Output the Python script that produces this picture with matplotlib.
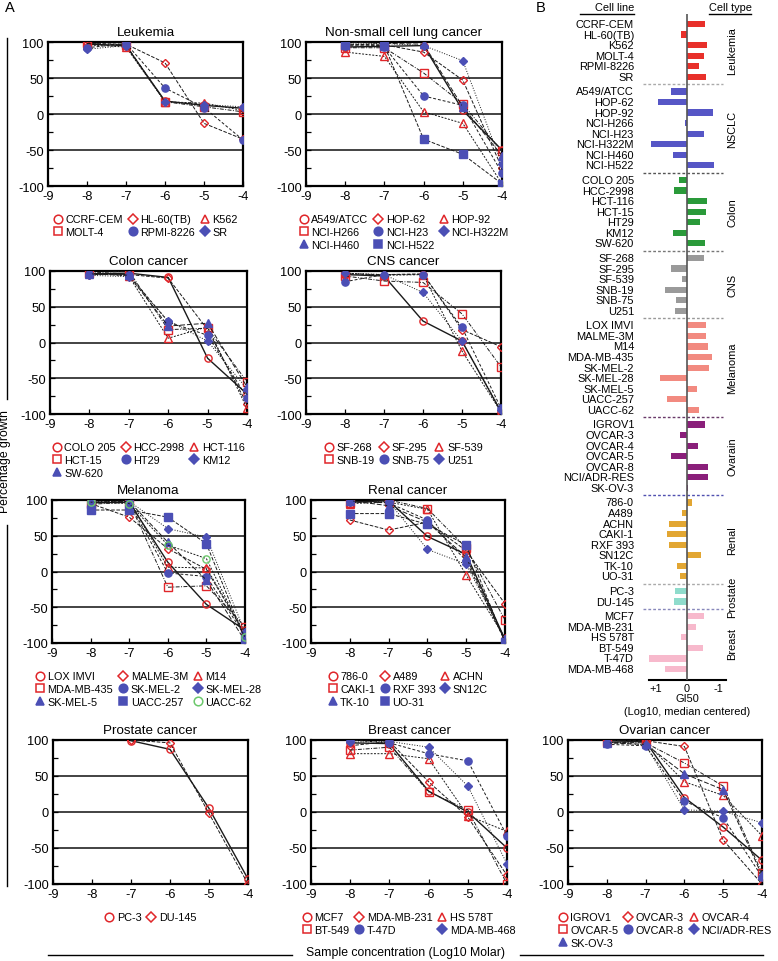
import numpy as np
import matplotlib
matplotlib.use("Agg")
import matplotlib.pyplot as plt
import matplotlib.transforms as mtransforms
from matplotlib.lines import Line2D

plt.rcParams['font.family'] = ['Liberation Sans', 'DejaVu Sans']
plt.rcParams['axes.unicode_minus'] = False

# concentrations (log10 M)
doses = [-8, -7, -6, -5, -4]

# percentage growth per cell line
leukemia_lines = ["CCRF-CEM", "HL-60(TB)", "K562", "MOLT-4", "RPMI-8226", "SR"]
leukemia_growth = [[97, 95, 18, 12, 8], [98, 97, 71, -13, -35], [96, 93, 17, 15, 5],
                   [98, 96, 17, 10, 3], [92, 98, 36, 9, -36], [90, 95, 17, 13, 10]]
leukemia_gi50 = [-0.58, 0.18, -0.63, -0.55, -0.39, -0.61]

nsclc_lines = ["A549/ATCC", "HOP-62", "HOP-92", "NCI-H266", "NCI-H23", "NCI-H322M",
               "NCI-H460", "NCI-H522"]
nsclc_growth = [[93, 94, 95, 5, -50], [97, 96, 86, 47, -75], [86, 80, 3, -13, -97],
                [92, 92, 57, 14, -52], [95, 93, 25, 12, -82], [97, 98, 95, 74, -70],
                [100, 98, 97, 10, -58], [96, 95, -35, -56, -97]]
nsclc_gi50 = [0.50, 0.92, -0.83, 0.06, -0.55, 1.16, 0.44, -0.85]

colon_lines = ["COLO 205", "HCC-2998", "HCT-116", "HCT-15", "HT29", "KM12", "SW-620"]
colon_growth = [[96, 97, 91, -22, -72], [95, 95, 90, 18, -86], [97, 93, 6, 22, -92],
                [97, 100, 18, 20, -55], [96, 95, 29, 10, -77], [94, 92, 30, 2, -65],
                [96, 94, 23, 27, -62]]
colon_gi50 = [0.25, 0.40, -0.63, -0.61, -0.40, 0.44, -0.56]

cns_lines = ["SF-268", "SF-295", "SF-539", "SNB-19", "SNB-75", "U251"]
cns_growth = [[95, 93, 30, 2, -97], [96, 95, 96, 18, -6], [97, 94, 95, -12, -97],
              [93, 86, 84, 40, -34], [85, 95, 95, 21, -92], [97, 95, 70, 2, -95]]
cns_gi50 = [-0.55, 0.51, 0.16, 0.69, 0.34, 0.39]

melanoma_lines = ["LOX IMVI", "MALME-3M", "M14", "MDA-MB-435", "SK-MEL-2", "SK-MEL-28",
                  "SK-MEL-5", "UACC-257", "UACC-62"]
melanoma_growth = [[96, 97, 13, -46, -82], [95, 76, 32, 3, -88], [97, 99, 6, 5, -86],
                   [94, 97, -22, -20, -77], [97, 96, -2, -7, -90], [98, 98, 60, 48, -85],
                   [97, 98, 41, -12, -97], [86, 86, 76, 39, -95], [97, 95, 37, 18, -92]]
melanoma_gi50 = [-0.61, -0.61, -0.67, -0.80, -0.70, 0.85, -0.33, 0.63, -0.37]

ovarian_lines = ["IGROV1", "OVCAR-3", "OVCAR-4", "OVCAR-5", "OVCAR-8", "NCI/ADR-RES", "SK-OV-3"]
ovarian_growth = [[97, 98, 20, -21, -67], [99, 99, 91, -39, -100], [100, 97, 42, 23, -33],
                  [97, 96, 68, 36, -85], [94, 92, 15, -8, -90], [97, 93, 3, 1, -15],
                  [96, 94, 53, 31, -88]]
ovarian_gi50 = [-0.58, 0.23, -0.35, 0.50, -0.68, -0.68, -0.02]

renal_lines = ["786-0", "A489", "ACHN", "CAKI-1", "RXF 393", "SN12C", "TK-10", "UO-31"]
renal_growth = [[97, 99, 49, 24, -95], [72, 58, 69, 29, -45], [95, 97, 87, -5, -93],
                [96, 100, 88, 33, -68], [98, 96, 72, 15, -97], [97, 98, 31, 10, -94],
                [99, 92, 69, 20, -98], [81, 81, 66, 37, -99]]
renal_gi50 = [-0.16, 0.16, 0.56, 0.63, 0.56, -0.46, 0.32, 0.23]

prostate_lines = ["PC-3", "DU-145"]
prostate_growth = [[np.nan, 99, 87, 5, -93], [np.nan, 100, 96, -2, -100]]
prostate_gi50 = [0.37, 0.40]

breast_lines = ["MCF7", "MDA-MB-231", "HS 578T", "BT-549", "T-47D", "MDA-MB-468"]
breast_growth = [[96, 95, 29, 0, -50], [92, 98, 42, -7, -88], [81, 81, 74, -5, -27],
                 [86, 90, 28, 3, -100], [100, 96, 81, 71, -33], [97, 98, 90, 36, -72]]
breast_gi50 = [-0.54, -0.30, 0.19, -0.51, 1.22, 0.69]

W, H = 778, 962
fig = plt.figure(figsize=(W / 100, H / 100), dpi=100, facecolor='w')


def px_axes(l, t, r, b):
    return fig.add_axes([l / W, 1 - b / H, (r - l) / W, (b - t) / H])


RED, BLUE, GREEN = '#e0262a', '#4b4fb5', '#6cc86c'
MARKERS = [('o', 'none', RED), ('D', 'none', RED), ('^', 'none', RED), ('s', 'none', RED),
           ('o', BLUE, BLUE), ('D', BLUE, BLUE), ('^', BLUE, BLUE), ('s', BLUE, BLUE),
           ('o', 'none', GREEN)]
LSTYLES = ['--', (0, (2, 1.5)), (0, (4, 1.5, 1, 1.5)), (0, (3, 2)), ':', (0, (5, 2))]


def growth_panel(ax, title, names, growth):
    handles = []
    for i, (name, vals) in enumerate(zip(names, growth)):
        mk, fc, ec = MARKERS[i]
        ms = 4.3 if mk == 'D' else 5.2
        ls = '-' if i == 0 else LSTYLES[(i - 1) % len(LSTYLES)]
        ax.plot(doses, vals, ls=ls, color='#1a1a1a', lw=1.0 if i == 0 else 0.7,
                marker=mk, ms=ms, mfc=fc, mec=ec, mew=1.0, zorder=3)
        handles.append(Line2D([], [], ls='none', marker=mk, ms=ms + 1, mfc=fc, mec=ec,
                              mew=1.1, label=name))
    for yv in (50, 0, -50):
        ax.axhline(yv, color='#222222', lw=1.2, zorder=1)
    ax.set_xlim(-9, -4)
    ax.set_ylim(-100, 100)
    ax.set_xticks([-9, -8, -7, -6, -5, -4])
    ax.set_yticks([-100, -50, 0, 50, 100])
    ax.set_yticks([-75, -25, 25, 75], minor=True)
    ax.tick_params(axis='both', which='both', direction='in', length=3.5, width=0.9,
                   labelsize=9.2, pad=3)
    for s in ax.spines.values():
        s.set_linewidth(1.6)
    ax.set_title(title, fontsize=9.6, pad=5)
    # row-wise legend ordering
    n = len(handles)
    order = [i for c in range(3) for i in range(c, n, 3)]
    ax.legend([handles[i] for i in order], [names[i] for i in order], ncol=3,
              loc='upper center', bbox_to_anchor=(0.5, -0.16), frameon=False,
              fontsize=7.8, handlelength=0.8, handletextpad=0.3, columnspacing=0.5,
              labelspacing=0.25, borderpad=0)


panels = [
    ("Leukemia", leukemia_lines, leukemia_growth, (48, 43, 243, 187)),
    ("Non-small cell lung cancer", nsclc_lines, nsclc_growth, (306, 43, 502, 187)),
    ("Colon cancer", colon_lines, colon_growth, (50, 272, 247, 415)),
    ("CNS cancer", cns_lines, cns_growth, (306, 272, 501, 415)),
    ("Melanoma", melanoma_lines, melanoma_growth, (52, 501, 245, 644)),
    ("Renal cancer", renal_lines, renal_growth, (311, 501, 505, 644)),
    ("Prostate cancer", prostate_lines, prostate_growth, (53, 741, 248, 885)),
    ("Breast cancer", breast_lines, breast_growth, (311, 741, 507, 885)),
    ("Ovarian cancer", ovarian_lines, ovarian_growth, (568, 741, 762, 885)),
]
for title, names, growth, box in panels:
    growth_panel(px_axes(*box), title, names, growth)

# ---- panel B: GI50 bars
groups = [
    ("Leukemia", leukemia_lines, leukemia_gi50, '#e8302a', '#aaaaaa'),
    ("NSCLC", nsclc_lines, nsclc_gi50, '#5656c6', '#555555'),
    ("Colon", colon_lines, colon_gi50, '#2a9a3a', '#777777'),
    ("CNS", cns_lines, cns_gi50, '#9a9a9a', '#999999'),
    ("Melanoma", melanoma_lines, melanoma_gi50, '#f28a80', '#6a3a6a'),
    ("Ovarain", ovarian_lines, ovarian_gi50, '#8a1f7a', '#5050b0'),
    ("Renal", renal_lines, renal_gi50, '#e2a632', '#aaaaaa'),
    ("Prostate", prostate_lines, prostate_gi50, '#8fdccc', '#8888bb'),
    ("Breast", breast_lines, breast_gi50, '#f7b9cc', None),
]
GAP = 0.4
axb = px_axes(649, 15, 726, 681)
trans = mtransforms.blended_transform_factory(fig.transFigure, axb.transData)
y = 0.0
for gi, (gname, names, vals, col, sepcol) in enumerate(groups):
    ys = y + np.arange(len(names))
    axb.barh(ys, vals, height=0.58, color=col, zorder=2)
    for yy, nm in zip(ys, names):
        axb.text(634 / W, yy, nm, transform=trans, ha='right', va='center', fontsize=7.9)
    axb.text(732 / W, ys.mean(), gname, transform=trans, ha='center', va='center',
             rotation=90, fontsize=7.9)
    y = ys[-1] + 1 + GAP
    if sepcol is not None:
        ysep = ys[-1] + (1 + GAP) / 2
        axb.plot([643 / W, 723 / W], [ysep, ysep], transform=trans, clip_on=False,
                 color=sepcol, lw=1.0, ls=(0, (2, 1.5)))
last = y - 1 - GAP
span = 645 / last  # px per row unit
axb.set_ylim(last + 11 / span, -10 / span)
axb.set_xlim(1.21, -1.24)
axb.axvline(0, color='#555555', lw=1.2, zorder=3)
for s in ('left', 'right', 'top'):
    axb.spines[s].set_visible(False)
axb.spines['bottom'].set_linewidth(1.5)
axb.set_yticks([])
axb.set_xticks([1, 0, -1])
axb.set_xticklabels(['+1', '0', '-1'])
axb.tick_params(axis='x', length=0, labelsize=7.9, pad=2)
axb.set_facecolor('none')

fig.text(687 / W, 1 - 699 / H, "GI50", ha='center', va='center', fontsize=7.9)
fig.text(687 / W, 1 - 712 / H, "(Log10, median centered)", ha='center', va='center',
         fontsize=7.9)
fig.text(634 / W, 1 - 8 / H, "Cell line", ha='right', va='center', fontsize=7.9)
fig.add_artist(Line2D([580 / W, 634 / W], [1 - 15 / H] * 2, color='k', lw=1.0))
fig.text(730 / W, 1 - 8 / H, "Cell type", ha='center', va='center', fontsize=7.9)
fig.add_artist(Line2D([709 / W, 751 / W], [1 - 15 / H] * 2, color='k', lw=1.0))

# panel letters and shared axis labels
fig.text(10 / W, 1 - 8 / H, "A", ha='center', va='center', fontsize=10.5)
fig.text(541 / W, 1 - 8 / H, "B", ha='center', va='center', fontsize=10.5)
fig.text(5 / W, 1 - 462 / H, "Percentage growth", rotation=90, ha='center',
         va='center', fontsize=8.8)
fig.add_artist(Line2D([7 / W, 7 / W], [1 - 39 / H, 1 - 400 / H], color='k', lw=1.0))
fig.add_artist(Line2D([7 / W, 7 / W], [1 - 526 / H, 1 - 887 / H], color='k', lw=1.0))
fig.text(405 / W, 1 - 953 / H, "Sample concentration (Log10 Molar)", ha='center',
         va='center', fontsize=8.8)
fig.add_artist(Line2D([48 / W, 292 / W], [1 - 956 / H] * 2, color='k', lw=1.0))
fig.add_artist(Line2D([520 / W, 763 / W], [1 - 956 / H] * 2, color='k', lw=1.0))

fig.savefig('out.png', dpi=100)
